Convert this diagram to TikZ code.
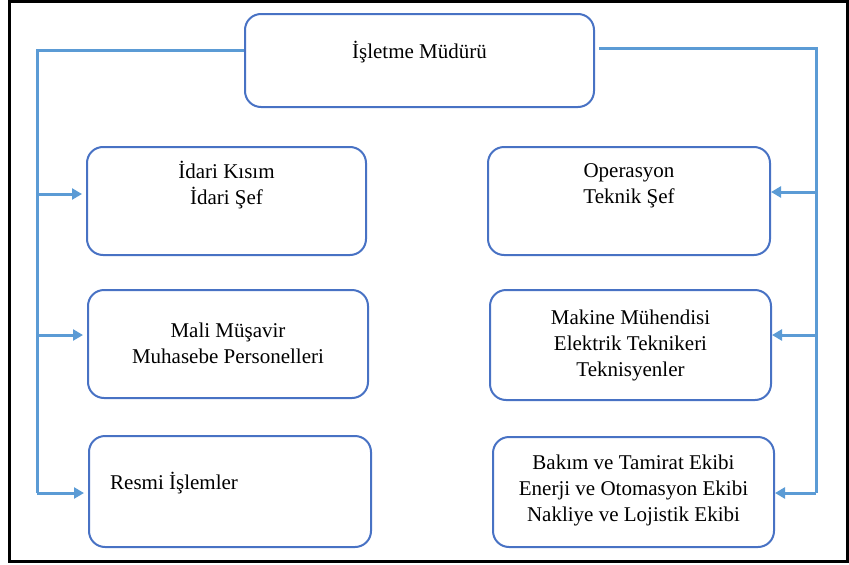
\documentclass[tikz,border=0pt]{standalone}
\usepackage{fontspec}
\setmainfont{Liberation Serif}
\usetikzlibrary{arrows.meta}
\definecolor{boxblue}{RGB}{72,114,196}
\definecolor{connblue}{RGB}{91,155,213}
\tikzset{
  box/.style={draw=boxblue, line width=2pt, rounded corners=16pt, inner sep=0pt, rectangle},
  txt/.style={font=\fontsize{21}{26}\selectfont, align=center, inner sep=0pt, text=black},
  conn/.style={draw=connblue, line width=3pt},
  arr/.style={conn, -{Triangle[length=10pt,width=11pt]}},
}
\begin{document}
\begin{tikzpicture}[x=1pt,y=-1pt]
\useasboundingbox (0,0) rectangle (849,565);
\draw[line width=2.8pt] (9.5,1.5) rectangle (847.5,561.5);

% boxes
\node[box, minimum width=349pt, minimum height=93pt] (top) at (419.5,60.5) {};
\node[box, minimum width=279pt, minimum height=108pt] (l1) at (226.5,201) {};
\node[box, minimum width=280pt, minimum height=108pt] (l2) at (228,344) {};
\node[box, minimum width=282pt, minimum height=111pt] (l3) at (230,491.5) {};
\node[box, minimum width=282pt, minimum height=108pt] (r1) at (629,201) {};
\node[box, minimum width=281pt, minimum height=110pt] (r2) at (630.5,345) {};
\node[box, minimum width=281pt, minimum height=110pt] (r3) at (633.5,492) {};

% texts
\node[txt] (ttop) at (419.5,52) {İşletme Müdürü};
\node[txt] (tl1) at (226.5,185.5) {İdari Kısım\\İdari Şef};
\node[txt] (tl2) at (228,343) {Mali Müşavir\\Muhasebe Personelleri};
\node[txt, anchor=west] (tl3) at (110,483) {Resmi İşlemler};
\node[txt] (tr1) at (629,185.5) {Operasyon\\Teknik Şef};
\node[txt] (tr2) at (630.5,345) {Makine Mühendisi\\Elektrik Teknikeri\\Teknisyenler};
\node[txt] (tr3) at (633.5,490) {Bakım ve Tamirat Ekibi\\Enerji ve Otomasyon Ekibi\\Nakliye ve Lojistik Ekibi};

% left connectors
\coordinate (LT) at (37,50);
\coordinate (LA) at (37,194);
\coordinate (LB) at (37,335);
\coordinate (LC) at (37,493);
\draw[conn] (top.west |- LT) -- (LT) -- (LC);
\draw[arr, shorten >=4pt] (LA) -- (LA -| l1.west);
\draw[arr, shorten >=4pt] (LB) -- (LB -| l2.west);
\draw[arr, shorten >=4pt] (LC) -- (LC -| l3.west);

% right connectors
\coordinate (RT) at (816,48);
\coordinate (RA) at (816,192);
\coordinate (RB) at (816,335);
\coordinate (RC) at (816,493);
\draw[conn] ([xshift=4pt]top.east |- RT) -- (RT) -- (RC);
\draw[arr] (RA) -- (RA -| r1.east);
\draw[arr] (RB) -- (RB -| r2.east);
\draw[arr] (RC) -- (RC -| r3.east);
\end{tikzpicture}
\end{document}
